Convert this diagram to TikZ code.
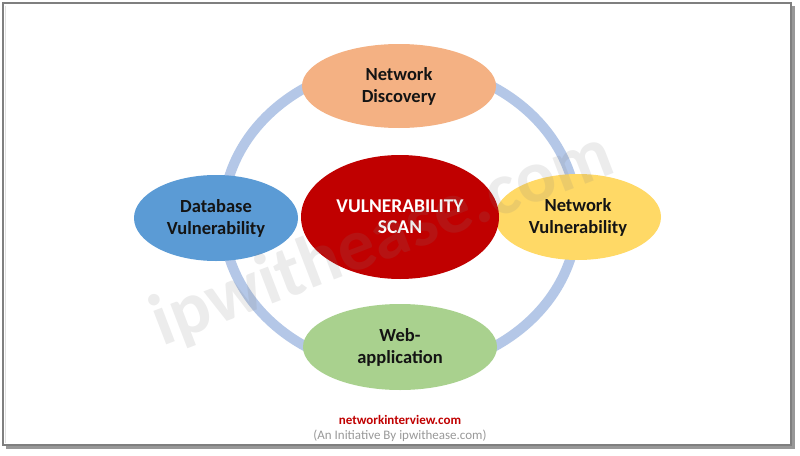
\documentclass[tikz,border=0pt]{standalone}
\usepackage{fontspec}
\setmainfont{Carlito}
\usetikzlibrary{shapes.geometric}
\definecolor{ringblue}{HTML}{B4C7E7}
\definecolor{scanred}{HTML}{C00000}
\definecolor{discorange}{HTML}{F4B183}
\definecolor{dbblue}{HTML}{5B9BD5}
\definecolor{netyellow}{HTML}{FFD966}
\definecolor{webgreen}{HTML}{A9D18E}
\definecolor{framegray}{HTML}{7F7F7F}
\begin{document}
\begin{tikzpicture}[x=1pt,y=-1pt,
  every node/.style={inner sep=0pt,align=center},
  bubble/.style={ellipse,font=\bfseries\fontsize{18.5}{22}\selectfont,text=black!92}]
  \path[use as bounding box] (0,0) rectangle (800,455);
  \fill[framegray!80] (6,6) rectangle (795,449);
  \draw[framegray,line width=2pt,fill=white] (3,3) rectangle (791,445);
  \draw[black!12,line width=1pt] (5.5,5.5) -- (5.5,442.5);
  \coordinate (S) at (400,217);
  \coordinate (N) at (399,86);
  \coordinate (W) at (216,218);
  \coordinate (E) at (578,217);
  \coordinate (B) at (400,347);
  \draw[ringblue,line width=10pt] (S) ellipse [x radius=177pt,y radius=153pt];
  \node[bubble,fill=discorange,minimum width=194pt,minimum height=84pt] (disc) at (N) {Network\\Discovery};
  \node[bubble,fill=dbblue,minimum width=164pt,minimum height=86pt] (db) at (W) {Database\\Vulnerability};
  \node[bubble,fill=netyellow,minimum width=166pt,minimum height=86pt] (net) at (E) {Network\\Vulnerability};
  \node[bubble,fill=webgreen,minimum width=194pt,minimum height=86pt] (web) at (B) {Web-\\application};
  \node[bubble,fill=scanred,text=white,minimum width=198pt,minimum height=124pt,
    font=\bfseries\fontsize{19.5}{21}\selectfont] (scan) at (S) {VULNERABILITY\\SCAN};
  \node[rotate=21,text=gray,opacity=.15,font=\bfseries\fontsize{74}{74}\selectfont] (mark) at (383,240) {ipwithease.com};
  \node[text=scanred,font=\bfseries\fontsize{13}{13}\selectfont] (site) at (400,420) {networkinterview.com};
  \node[text=black!40,font=\fontsize{13}{13}\selectfont,below=5pt] (tag) at (site.south) {(An Initiative By ipwithease.com)};
\end{tikzpicture}
\end{document}
